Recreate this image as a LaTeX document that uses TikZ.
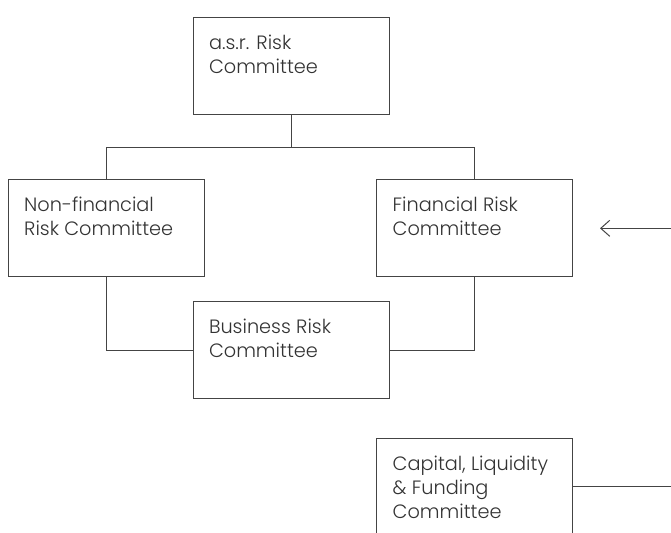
\documentclass[tikz,border=0pt]{standalone}
\usepackage{fontspec}
\IfFontExistsTF{Poppins Light}{\setmainfont{Poppins Light}[Ligatures=NoCommon]}{\setmainfont{Poppins}[Ligatures=NoCommon]}
\usetikzlibrary{arrows.meta}
\definecolor{linegray}{HTML}{444444}
\definecolor{textgray}{HTML}{333333}
\begin{document}
\begin{tikzpicture}[x=1pt,y=-1pt,
			committee/.style={draw=linegray,line width=1pt,text=textgray,
				minimum width=196pt,minimum height=97pt,inner xsep=16pt,inner ysep=0pt},
			link/.style={draw=linegray,line width=1pt}]
			\newcommand{\cmtext}[1]{
				\parbox[t][97pt][t]{164pt}{\fontsize{19.3}{24}\selectfont\raggedright\rule{0pt}{32pt}#1}
			}%Page frame
			\useasboundingbox (0,0) rectangle (671,532);
			%The committees
			\node [committee] (asr) at (291,66.4) {\cmtext{a.s.r. Risk\\Committee}};
			\node [committee] (nonfin) at (106.2,228.3) {\cmtext{Non-financial\\Risk Committee}};
			\node [committee] (fin) at (474.7,228.3) {\cmtext{Financial Risk\\Committee}};
			\node [committee] (business) at (291,350) {\cmtext{Business Risk\\Committee}};
			\node [committee] (capital) at (474.7,486.8) {\cmtext{Capital, Liquidity\\\& Funding\\Committee}};
			%Bus line below the top committee
			\coordinate (bus) at (291,147);
			\draw [link] (asr.south) -- (bus);
			\draw [link] (nonfin.north) -- (nonfin.north |- bus) -- (fin.north |- bus) -- (fin.north);
			%Lines down to the business committee
			\draw [link] (nonfin.south) |- (business.west);
			\draw [link] (fin.south) |- (business.east);
			%Lines coming in from the right
			\coordinate (arrowtip) at (600,228.3);
			\coordinate (arrowend) at (671,228.3);
			\draw [link,-{Straight Barb[length=9pt,width=16pt]}] (arrowend) -- (arrowtip);
			\coordinate (capitalend) at (671,486.8);
			\draw [link] (capital.east) -- (capitalend);
\end{tikzpicture}
\end{document}
